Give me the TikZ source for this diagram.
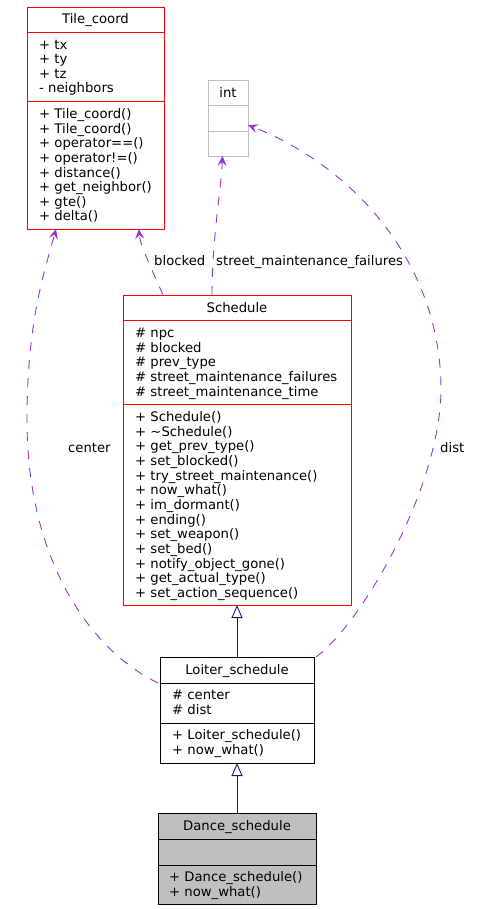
\documentclass[tikz,border=0pt]{standalone}
\usepackage{fontspec}
\setmainfont{DejaVu Sans}
\usetikzlibrary{arrows.meta}

\definecolor{usepurple}{HTML}{9A32CD}
\definecolor{inhnavy}{HTML}{191970}
\definecolor{clsred}{HTML}{FF0000}
\definecolor{clsgray}{HTML}{BFBFBF}

\tikzset{
  txt/.style={inner sep=0pt, font=\fontsize{13.2}{14.65}\selectfont},
  title/.style={txt, anchor=base},
  members/.style={txt, anchor=base west, align=left}, % base = last line
  usage/.style={usepurple, line width=0.9pt, dash pattern=on 9pt off 9pt,
    -{Stealth[length=10pt,width=9pt,inset=4pt]}},
  inherit/.style={inhnavy, line width=0.9pt,
    -{Triangle[open,length=13pt,width=11pt,fill=white]}}
}

\begin{document}
\begin{tikzpicture}[x=1pt,y=-1pt]
\useasboundingbox (0,0) rectangle (479,909);

% class boxes
\draw [clsred, line width=0.9pt] (27,7) rectangle (164,229);
\draw [clsred, line width=0.9pt] (27,32)--(164,32); \draw [clsred, line width=0.9pt] (27,101)--(164,101);

\draw [clsgray, line width=0.9pt] (208,80) rectangle (248,156);
\draw [clsgray, line width=0.9pt] (208,105)--(248,105); \draw [clsgray, line width=0.9pt] (208,131)--(248,131);

\draw [clsred, line width=0.9pt] (123,295) rectangle (351,605);
\draw [clsred, line width=0.9pt] (123,320)--(351,320); \draw [clsred, line width=0.9pt] (123,404)--(351,404);

\draw [line width=0.9pt] (160,657) rectangle (314,763);
\draw [line width=0.9pt] (160,683)--(314,683); \draw [line width=0.9pt] (160,723)--(314,723);

\draw [fill=clsgray, line width=0.9pt] (158,813) rectangle (316,904);
\draw [line width=0.9pt] (158,839)--(316,839); \draw [line width=0.9pt] (158,865)--(316,865);

% texts
\node[title] (v20) at (95.5,24) {Tile\_coord};
\node[members] (v21) at (39,93) {+ tx\\+ ty\\+ tz\\- neighbors};
\node[members] (v22) at (39,221) {+ Tile\_coord()\\+ Tile\_coord()\\+ operator==()\\+ operator!=()\\+ distance()\\+ get\_neighbor()\\+ gte()\\+ delta()};

\node[title] (v23) at (228,97.5) {int};

\node[title] (v24) at (237,312.5) {Schedule};
\node[members] (v25) at (135,396.1) {\# npc\\\# blocked\\\# prev\_type\\\# street\_maintenance\_failures\\\# street\_maintenance\_time};
\node[members] (v26) at (135,597.3) {+ Schedule()\\+ \textasciitilde Schedule()\\+ get\_prev\_type()\\+ set\_blocked()\\+ try\_street\_maintenance()\\+ now\_what()\\+ im\_dormant()\\+ ending()\\+ set\_weapon()\\+ set\_bed()\\+ notify\_object\_gone()\\+ get\_actual\_type()\\+ set\_action\_sequence()};

\node[title] (v27) at (237,674.5) {Loiter\_schedule};
\node[members] (v28) at (172,714.6) {\# center\\\# dist};
\node[members] (v29) at (172,754.6) {+ Loiter\_schedule()\\+ now\_what()};

\node[title] (v30) at (237,830.5) {Dance\_schedule};
\node[members] (v31) at (169,896.6) {+ Dance\_schedule()\\+ now\_what()};

% inheritance
\node[coordinate] (v1) at (237,605) {};
\node[coordinate] (v2) at (237,657) {};
\node[coordinate] (v3) at (237,763) {};
\node[coordinate] (v4) at (237,813) {};
\draw [inherit] (v2)--(v1);
\draw [inherit] (v4)--(v3);

% usage
\node[coordinate] (v5) at (158,683) {};
\node[coordinate] (v6) at (27,420) {};
\node[coordinate] (v7) at (56,229) {};
\draw [usage] (v5) .. controls (90,650) and (27,560) .. (v6) .. controls (27,320) and (45,270) .. (v7);

\node[coordinate] (v8) at (163,295) {};
\node[coordinate] (v9) at (139,229) {};
\draw [usage] (v8) .. controls (150,265) and (140,245) .. (v9);

\node[coordinate] (v10) at (212,295) {};
\node[coordinate] (v11) at (222.5,156) {};
\draw [usage] (v10) .. controls (212,240) and (221,190) .. (v11);

\node[coordinate] (v12) at (316,657) {};
\node[coordinate] (v13) at (441,390) {};
\node[coordinate] (v14) at (248,125) {};
\draw [usage] (v12) .. controls (360,625) and (440,490) .. (v13) .. controls (441,260) and (350,165) .. (v14);

\node[txt, anchor=base west] (v15) at (68,452.5) {center};
\node[txt, anchor=base west] (v16) at (154,265) {blocked};
\node[txt, anchor=base west] (v17) at (216,265) {street\_maintenance\_failures};
\node[txt, anchor=base west] (v18) at (440,452.5) {dist};

\end{tikzpicture}
\end{document}
